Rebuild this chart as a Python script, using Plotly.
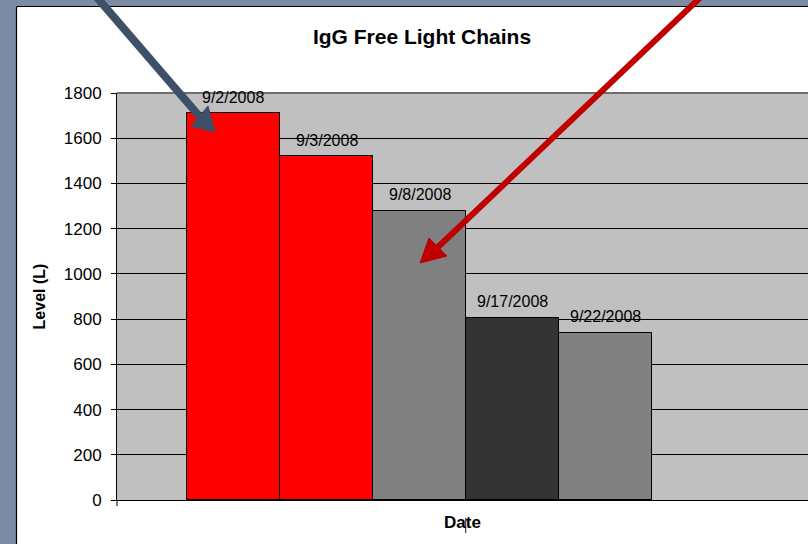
import plotly.graph_objects as go

# IgG free light chain levels by sample date
dates = ["9/2/2008", "9/3/2008", "9/8/2008", "9/17/2008", "9/22/2008"]
levels = [1710, 1520, 1280, 805, 740]
bar_colors = ["#ff0000", "#ff0000", "#808080", "#333333", "#808080"]
y_ticks = [0, 200, 400, 600, 800, 1000, 1200, 1400, 1600, 1800]

W, H = 808, 544
ML, MR, MT, MB = 117, 0, 93, 44
PW, PH = W - ML - MR, H - MT - MB
FONT = "Liberation Sans, Arial, sans-serif"


def px(x):
    """Pixel column -> paper x."""
    return (x - ML) / PW


def py(y):
    """Pixel row -> paper y."""
    return (H - MB - y) / PH


fig = go.Figure()
fig.add_trace(go.Bar(
    x=dates,
    y=levels,
    width=1.0,
    marker=dict(color=bar_colors, line=dict(color="#000000", width=1)),
    hoverinfo="x+y",
))

# date labels above each bar
for d, v in zip(dates, levels):
    fig.add_annotation(
        x=d, y=v, xref="x", yref="y", text=d, showarrow=False,
        yshift=16, yanchor="middle",
        font=dict(family=FONT, size=16, color="#000000"),
    )


def line(x0, y0, x1, y1, color, width):
    fig.add_shape(type="line", xref="paper", yref="paper",
                  x0=px(x0), y0=py(y0), x1=px(x1), y1=py(y1),
                  line=dict(color=color, width=width))


def tri(pts, color):
    path = "M " + " L ".join(f"{px(a)},{py(b)}" for a, b in pts) + " Z"
    fig.add_shape(type="path", xref="paper", yref="paper", path=path,
                  fillcolor=color, line=dict(color=color, width=1))


def rect(x0, y0, x1, y1, color):
    fig.add_shape(type="rect", xref="paper", yref="paper",
                  x0=px(x0), y0=py(y0), x1=px(x1), y1=py(y1),
                  fillcolor=color, line=dict(width=0))


# slide frame around the chart
FRAME = "#7b8ca4"
rect(-2, -2, 16.5, H + 2, FRAME)
rect(-2, -2, W + 2, 6.5, FRAME)
line(16.5, 6.5, 16.5, H + 2, "#000000", 1.2)
line(16.5, 6.5, W + 2, 6.5, "#000000", 1.2)

# plot area top border and axis stub
line(ML, MT, W, MT, "#6e6e6e", 2)
line(ML, H - MB, ML, H - MB + 6, "#000000", 1)
# small caret mark in the axis title
line(465.7, 518, 465.7, 533, "#222222", 1)

# call-out arrows
BLUE = "#3d5068"
line(94, -6, 200, 117, BLUE, 8)
tri([(215, 132), (191, 126), (208, 106)], BLUE)

RED = "#c00000"
line(704, -6, 437, 248, RED, 6)
tri([(420, 263), (429, 238), (447, 256)], RED)

fig.update_layout(
    width=W, height=H,
    autosize=False,
    margin=dict(l=ML, r=MR, t=MT, b=MB, pad=0),
    paper_bgcolor="#ffffff",
    plot_bgcolor="#c0c0c0",
    showlegend=False,
    bargap=0,
    font=dict(family=FONT, color="#000000"),
    title=dict(
        text="<b>IgG Free Light Chains</b>",
        x=422 / W, xref="container", xanchor="center",
        y=1 - 37 / H, yref="container", yanchor="middle",
        font=dict(family=FONT, size=21, color="#000000"),
    ),
    xaxis=dict(
        type="category",
        range=[-1.251, 6.171],
        showticklabels=False,
        ticks="",
        showgrid=False,
        showline=True, linecolor="#000000", linewidth=1,
        zeroline=False,
        title=dict(text="<b>Date</b>", standoff=16,
                   font=dict(family=FONT, size=17, color="#000000")),
    ),
    yaxis=dict(
        range=[0, 1800],
        tickvals=y_ticks,
        ticks="outside", ticklen=5, tickcolor="#000000", tickwidth=1,
        ticklabelstandoff=6,
        tickfont=dict(family=FONT, size=17, color="#000000"),
        showgrid=True, gridcolor="#000000", gridwidth=1,
        showline=True, linecolor="#000000", linewidth=1,
        zeroline=False,
        title=dict(text="<b>Level (L)</b>", standoff=14,
                   font=dict(family=FONT, size=16, color="#000000")),
    ),
)

fig.write_html("out.html")
